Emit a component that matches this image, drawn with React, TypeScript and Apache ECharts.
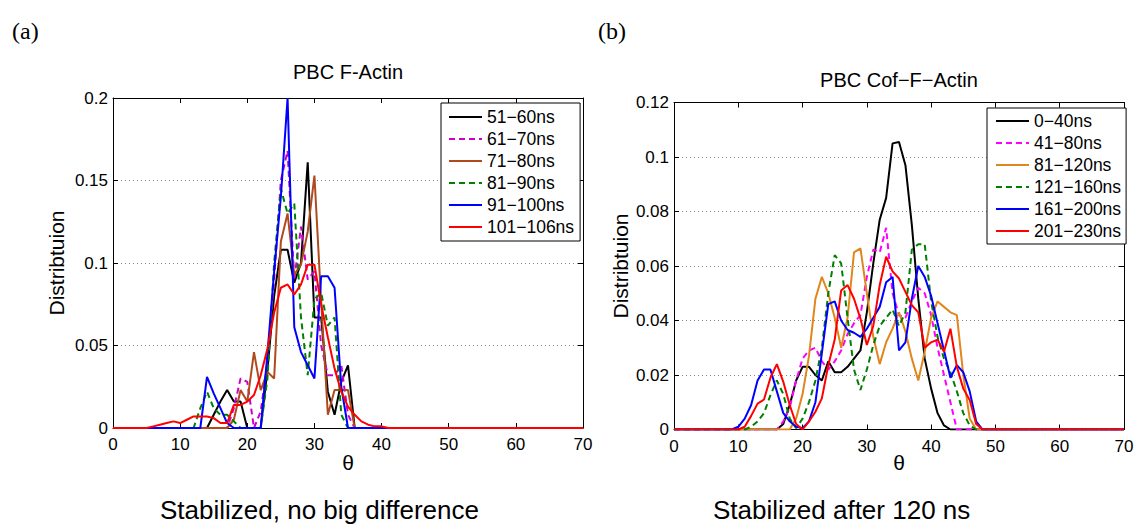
import React, { useEffect, useRef } from "react";
import * as echarts from "echarts";

// ---------- Data (theta in degrees, distribution value) ----------
const xTicksA = [0, 10, 20, 30, 40, 50, 60, 70];
const yTicksA = [0, 0.05, 0.1, 0.15, 0.2];
const yTicksB = [0, 0.02, 0.04, 0.06, 0.08, 0.1, 0.12];

const namesA = ["51−60ns", "61−70ns", "71−80ns", "81−90ns", "91−100ns", "101−106ns"];
const namesB = ["0−40ns", "41−80ns", "81−120ns", "121−160ns", "161−200ns", "201−230ns"];

const a51_60 = [[0,0],[14,0],[15,0.008],[16,0.016],[17,0.023],[18,0.016],[19,0.016],[20,0],[22,0],[23,0.035],[24,0.08],[25,0.108],[26,0.108],[27,0.088],[28,0.1],[29,0.161],[30,0.067],[31,0.067],[32,0.022],[33,0.008],[34,0.028],[35,0.038],[36,0],[70,0]];
const a61_70 = [[0,0],[17,0],[18,0.012],[19,0.03],[20,0.028],[21,0],[22,0.01],[23,0.04],[24,0.09],[25,0.15],[26,0.168],[27,0.09],[28,0.122],[29,0.09],[30,0.095],[31,0.05],[32,0.032],[33,0.032],[34,0.038],[35,0.008],[36,0],[70,0]];
const a71_80 = [[0,0],[17,0],[18,0.005],[19,0.023],[20,0.016],[21,0.046],[22,0.023],[23,0.034],[24,0.03],[25,0.113],[26,0.13],[27,0.093],[28,0.099],[29,0.119],[30,0.153],[31,0.077],[32,0.008],[33,0.023],[34,0.023],[35,0.023],[36,0],[70,0]];
const a81_90 = [[0,0],[12,0],[13,0.012],[14,0.022],[15,0.012],[16,0.008],[17,0.008],[18,0.004],[19,0],[22,0],[23,0.03],[24,0.1],[25,0.145],[26,0.13],[27,0.136],[28,0.067],[29,0.032],[30,0.078],[31,0.082],[32,0.062],[33,0.067],[34,0.008],[35,0],[70,0]];
const a91_100 = [[0,0],[13,0],[14,0.031],[15,0.021],[16,0.012],[17,0.003],[18,0],[22,0],[23,0.045],[24,0.095],[25,0.14],[26,0.2],[27,0.061],[28,0.046],[29,0.038],[30,0.03],[31,0.092],[32,0.092],[33,0.085],[34,0.025],[35,0],[70,0]];
const a101_106 = [[0,0],[5,0],[6,0.001],[7,0.002],[8,0.003],[9,0.004],[10,0.003],[11,0.005],[12,0.007],[13,0.007],[14,0.007],[15,0.006],[16,0.003],[17,0.003],[18,0.014],[19,0.014],[20,0.016],[21,0.02],[22,0.032],[23,0.048],[24,0.07],[25,0.085],[26,0.087],[27,0.081],[28,0.087],[29,0.099],[30,0.099],[31,0.075],[32,0.055],[33,0.036],[34,0.022],[35,0.013],[36,0.008],[37,0.004],[38,0.002],[39,0.001],[40,0.001],[41,0],[70,0]];

const b0_40 = [[0,0],[16,0],[17,0.002],[18,0.009],[19,0.018],[20,0.023],[21,0.023],[22,0.02],[23,0.018],[24,0.025],[25,0.021],[26,0.021],[27,0.023],[28,0.026],[29,0.029],[30,0.043],[31,0.061],[32,0.077],[33,0.085],[34,0.105],[35,0.1055],[36,0.097],[37,0.075],[38,0.048],[39,0.026],[40,0.015],[41,0.006],[42,0.0015],[43,0],[70,0]];
const b41_80 = [[0,0],[16,0],[17,0.003],[18,0.008],[19,0.018],[20,0.026],[21,0.029],[22,0.03],[23,0.025],[24,0.022],[25,0.025],[26,0.029],[27,0.035],[28,0.039],[29,0.042],[30,0.056],[31,0.066],[32,0.065],[33,0.074],[34,0.05],[35,0.042],[36,0.041],[37,0.047],[38,0.052],[39,0.05],[40,0.042],[41,0.03],[42,0.02],[43,0.01],[44,0],[70,0]];
const b81_120 = [[0,0],[18,0],[19,0.004],[20,0.013],[21,0.027],[22,0.048],[23,0.056],[24,0.05],[25,0.041],[26,0.03],[27,0.041],[28,0.065],[29,0.0665],[30,0.05],[31,0.034],[32,0.024],[33,0.032],[34,0.037],[35,0.043],[36,0.036],[37,0.026],[38,0.018],[39,0.0285],[40,0.041],[41,0.047],[42,0.045],[43,0.043],[44,0.042],[45,0.02],[46,0.004],[47,0],[70,0]];
const b121_160 = [[0,0],[11,0],[12,0.001],[13,0.003],[14,0.006],[15,0.0126],[16,0.018],[17,0.013],[18,0.004],[19,0.0005],[20,0.004],[21,0.01],[22,0.018],[23,0.03],[24,0.05],[25,0.064],[26,0.061],[27,0.041],[28,0.022],[29,0.0145],[30,0.022],[31,0.031],[32,0.038],[33,0.041],[34,0.044],[35,0.038],[36,0.043],[37,0.066],[38,0.068],[39,0.068],[40,0.047],[41,0.034],[42,0.026],[43,0.021],[44,0.014],[45,0.006],[46,0.0015],[47,0],[70,0]];
const b161_200 = [[0,0],[9,0],[10,0.001],[11,0.004],[12,0.009],[13,0.018],[14,0.022],[15,0.022],[16,0.014],[17,0.006],[18,0.003],[19,0.001],[20,0.0005],[21,0.003],[22,0.01],[23,0.028],[24,0.046],[25,0.047],[26,0.04],[27,0.0365],[28,0.0355],[29,0.034],[30,0.037],[31,0.041],[32,0.045],[33,0.054],[34,0.056],[35,0.029],[36,0.032],[37,0.048],[38,0.06],[39,0.056],[40,0.049],[41,0.039],[42,0.029],[43,0.019],[44,0.0236],[45,0.021],[46,0.014],[47,0.003],[48,0],[70,0]];
const b201_230 = [[0,0],[10,0],[11,0.001],[12,0.005],[13,0.0095],[14,0.011],[15,0.019],[16,0.024],[17,0.0175],[18,0.009],[19,0.002],[20,0],[21,0.003],[22,0.0065],[23,0.0114],[24,0.0236],[25,0.033],[26,0.051],[27,0.053],[28,0.048],[29,0.0407],[30,0.031],[31,0.038],[32,0.053],[33,0.0634],[34,0.058],[35,0.0554],[36,0.0505],[37,0.0456],[38,0.043],[39,0.03],[40,0.032],[41,0.033],[42,0.0285],[43,0.037],[44,0.023],[45,0.015],[46,0.0108],[47,0.002],[48,0],[70,0]];

const dataA = [a51_60, a61_70, a71_80, a81_90, a91_100, a101_106];
const dataB = [b0_40, b41_80, b81_120, b121_160, b161_200, b201_230];
const colorsA = ["#000000", "#cc00cc", "#b04a1c", "#008000", "#0000ff", "#ff0000"];
const colorsB = ["#000000", "#ff00ff", "#e0861c", "#008000", "#0000ff", "#ff0000"];
const dashedA = [false, true, false, true, false, false];
const dashedB = [false, true, false, true, false, false];

const FONT = '"Liberation Sans", Arial, Helvetica, sans-serif';
const SERIF = '"Liberation Serif", "Times New Roman", serif';

function xAxes(grid: number, ticks: number[]) {
  const min = ticks[0];
  const max = ticks[ticks.length - 1];
  const interval = ticks[1] - ticks[0];
  const base = {
    gridIndex: grid,
    type: "value",
    min,
    max,
    interval,
    axisLine: { show: true, onZero: false, lineStyle: { color: "#000", width: 1 } },
    axisTick: { show: true, inside: true, length: 5, lineStyle: { color: "#000", width: 1 } },
    splitLine: { show: false },
  };
  return [
    { ...base, position: "bottom", axisLabel: { color: "#000", fontSize: 17, fontFamily: FONT, margin: 8 } },
    { ...base, position: "top", axisLabel: { show: false } },
  ];
}

function yAxes(grid: number, ticks: number[]) {
  const min = ticks[0];
  const max = ticks[ticks.length - 1];
  const interval = ticks[1] - ticks[0];
  const base = {
    gridIndex: grid,
    type: "value",
    min,
    max,
    interval,
    axisLine: { show: true, onZero: false, lineStyle: { color: "#000", width: 1 } },
    axisTick: { show: true, inside: true, length: 5, lineStyle: { color: "#000", width: 1 } },
  };
  return [
    {
      ...base,
      position: "left",
      axisLabel: { color: "#000", fontSize: 17, fontFamily: FONT, margin: 5 },
      splitLine: { show: true, lineStyle: { color: "#8a8a8a", width: 1, type: [1, 3] } },
    },
    { ...base, position: "right", axisLabel: { show: false }, splitLine: { show: false } },
  ];
}

function makeSeries(names: string[], data: number[][][], colors: string[], dashed: boolean[], axis: number) {
  return names.map((name, i) => ({
    name,
    type: "line",
    xAxisIndex: axis,
    yAxisIndex: axis,
    data: data[i],
    symbol: "none",
    showSymbol: false,
    smooth: false,
    clip: true,
    itemStyle: { color: colors[i] },
    lineStyle: { color: colors[i], width: 2, type: dashed[i] ? [6, 4] : "solid" },
    z: 2 + i,
  }));
}

function legendCfg(names: string[], left: number, top: number, padding: number[]) {
  return {
    data: names,
    orient: "vertical",
    left,
    top,
    itemWidth: 33,
    itemHeight: 14,
    itemGap: 4,
    padding,
    borderColor: "#000",
    borderWidth: 1,
    backgroundColor: "#fff",
    borderRadius: 0,
    itemStyle: { opacity: 0 },
    textStyle: { color: "#000", fontSize: 17.5, fontFamily: FONT, lineHeight: 17 },
    selectedMode: false,
  };
}

function txt(text: string, x: number, y: number, font: string, rotation = 0, align = "center") {
  return {
    type: "text",
    x,
    y,
    rotation,
    z: 100,
    style: {
      text,
      font,
      fill: "#000",
      align,
      verticalAlign: "middle",
      textAlign: align,
      textVerticalAlign: "middle",
    },
  };
}

export default function App() {
  const ref = useRef<HTMLDivElement>(null);
  useEffect(() => {
    if (!ref.current) return;
    const chart = echarts.init(ref.current, undefined, { renderer: "svg" });
    const option = {
      animation: false,
      backgroundColor: "#fff",
      grid: [
        { left: 113, top: 98, width: 470, height: 330, containLabel: false },
        { left: 674, top: 102.5, width: 450, height: 327, containLabel: false },
      ],
      xAxis: [...xAxes(0, xTicksA), ...xAxes(1, xTicksA)],
      yAxis: [...yAxes(0, yTicksA), ...yAxes(1, yTicksB)],
      legend: [
        legendCfg(namesA, 441, 103, [5, 6, 5, 7]),
        legendCfg(namesB, 987, 108, [4, 5, 4, 8]),
      ],
      series: [
        ...makeSeries(namesA, dataA, colorsA, dashedA, 0),
        ...makeSeries(namesB, dataB, colorsB, dashedB, 2),
      ],
      graphic: [
        txt("(a)", 12, 31, `24px ${SERIF}`, 0, "left"),
        txt("(b)", 598, 31, `24px ${SERIF}`, 0, "left"),
        txt("PBC F-Actin", 348, 72, `20px ${FONT}`),
        txt("PBC Cof−F−Actin", 899, 80, `20px ${FONT}`),
        txt("Distribtuion", 56, 263, `21px ${FONT}`, Math.PI / 2),
        txt("Distribtuion", 620, 266, `21px ${FONT}`, Math.PI / 2),
        txt("θ", 348, 462, `21px ${FONT}`),
        txt("θ", 899, 462, `21px ${FONT}`),
        txt("Stabilized, no big difference", 160, 510, `26px ${FONT}`, 0, "left"),
        txt("Stabilized after 120 ns", 713, 510, `26px ${FONT}`, 0, "left"),
      ],
    };
    chart.setOption(option as any);
    return () => chart.dispose();
  }, []);
  return (
    <div
      ref={ref}
      style={{ position: "fixed", left: 0, top: 0, width: 1137, height: 527, background: "#fff" }}
    />
  );
}
